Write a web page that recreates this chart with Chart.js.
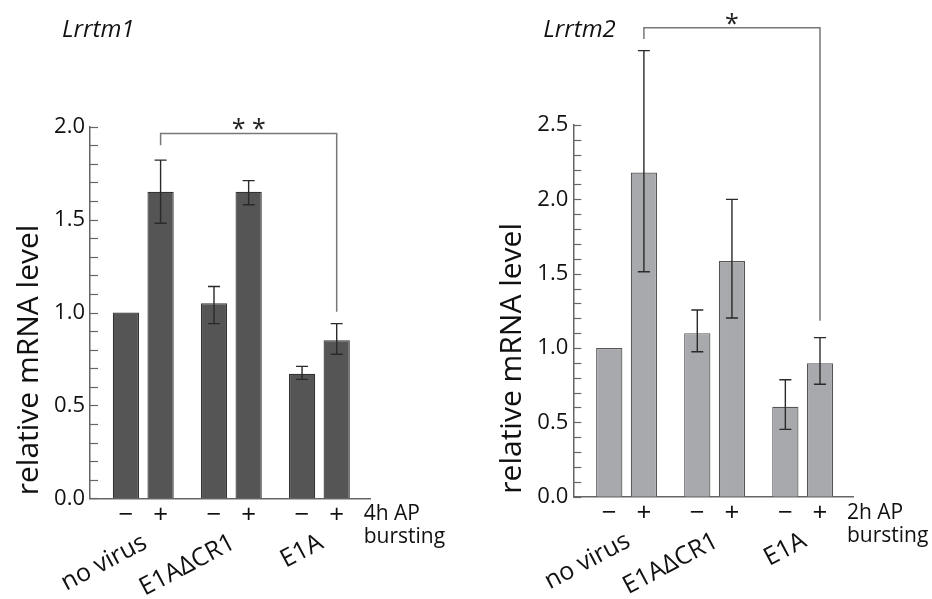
<!DOCTYPE html>
<html>
<head>
<meta charset="utf-8">
<script src="https://cdn.jsdelivr.net/npm/chart.js@4.4.0/dist/chart.umd.min.js"></script>
<style>
  body { margin: 0; background: #fff; }
  #wrap { position: relative; width: 932px; height: 599px; }
  .box { position: absolute; top: 0; width: 466px; height: 599px; }
</style>
</head>
<body>
<div id="wrap">
  <div class="box" style="left:0"><canvas id="chart1"></canvas></div>
  <div class="box" style="left:466px"><canvas id="chart2"></canvas></div>
</div>
<script>
// x axis groups and the -/+ bursting condition
const groups = ["no virus", "E1A\u0394CR1", "E1A"]
const conditions = ["\u2212", "+"]

// Lrrtm1 (4h AP bursting)
const lrrtm1Minus = [1.0, 1.05, 0.67]
const lrrtm1Plus = [1.65, 1.65, 0.85]
const lrrtm1MinusHigh = [null, 1.14, 0.71]
const lrrtm1MinusLow = [null, 0.94, 0.64]
const lrrtm1PlusHigh = [1.82, 1.71, 0.94]
const lrrtm1PlusLow = [1.48, 1.58, 0.775]

// Lrrtm2 (2h AP bursting)
const lrrtm2Minus = [1.0, 1.10, 0.605]
const lrrtm2Plus = [2.18, 1.585, 0.897]
const lrrtm2MinusHigh = [null, 1.256, 0.787]
const lrrtm2MinusLow = [null, 0.975, 0.453]
const lrrtm2PlusHigh = [3.0, 2.0, 1.07]
const lrrtm2PlusLow = [1.513, 1.202, 0.756]

// y axis tick labels
const lrrtm1Ticks = ["0.0", "0.5", "1.0", "1.5", "2.0"]
const lrrtm2Ticks = ["0.0", "0.5", "1.0", "1.5", "2.0", "2.5"]

const FONT = "'Open Sans', 'DejaVu Sans', sans-serif"

// draws the bits Chart.js has no option for: inner ticks, error bars,
// significance bracket, -/+ row, rotated group names and titles
const extrasPlugin = {
    id: 'extras',
    afterDraw(chart, args, opts) {
        const ctx = chart.ctx
        const area = chart.chartArea
        const y = chart.scales.y
        const m0 = chart.getDatasetMeta(0)
        const m1 = chart.getDatasetMeta(1)
        ctx.save()

        // minor ticks pointing into the plot
        ctx.strokeStyle = '#666'
        ctx.lineWidth = 1.2
        y.ticks.forEach(t => {
            let py = Math.round(y.getPixelForValue(t.value)) + 0.5
            ctx.beginPath()
            ctx.moveTo(area.left, py)
            ctx.lineTo(area.left + 8, py)
            ctx.stroke()
        })

        // error bars
        ctx.strokeStyle = '#2a2a2a'
        ctx.lineWidth = 1.4
        const errs = [[opts.minusHigh, opts.minusLow], [opts.plusHigh, opts.plusLow]]
        ;[m0, m1].forEach((meta, d) => {
            meta.data.forEach((bar, i) => {
                let hi = errs[d][0][i]
                let lo = errs[d][1][i]
                if (hi == null) return
                let yh = y.getPixelForValue(hi)
                let yl = y.getPixelForValue(lo)
                ctx.beginPath()
                ctx.moveTo(bar.x, yh)
                ctx.lineTo(bar.x, yl)
                ctx.moveTo(bar.x - 6, yh)
                ctx.lineTo(bar.x + 6, yh)
                ctx.moveTo(bar.x - 6, yl)
                ctx.lineTo(bar.x + 6, yl)
                ctx.stroke()
            })
        })

        // significance bracket between "no virus +" and "E1A +"
        const b = opts.bracket
        let bx1 = m1.data[0].x
        let bx2 = m1.data[2].x
        let by = y.getPixelForValue(b.top)
        ctx.strokeStyle = '#777'
        ctx.lineWidth = 1.5
        ctx.beginPath()
        ctx.moveTo(bx1, y.getPixelForValue(b.leftEnd))
        ctx.lineTo(bx1, by)
        ctx.lineTo(bx2, by)
        ctx.lineTo(bx2, y.getPixelForValue(b.rightEnd))
        ctx.stroke()
        ctx.fillStyle = '#222'
        ctx.font = '25px ' + FONT
        ctx.textAlign = 'center'
        ctx.textBaseline = 'alphabetic'
        ctx.fillText(b.label, (bx1 + bx2) / 2, by + 4)

        // -/+ row
        ctx.fillStyle = '#111'
        ctx.font = '26px ' + FONT
        ctx.textBaseline = 'middle'
        ;[m0, m1].forEach((meta, d) => {
            meta.data.forEach(bar => {
                ctx.fillText(conditions[d], bar.x, area.bottom + 17)
            })
        })

        // "4h AP / bursting"
        ctx.textAlign = 'left'
        ctx.font = '21px ' + FONT
        let lx = m1.data[2].x + 27
        ctx.fillText(opts.apLabel, lx, area.bottom + 16)
        ctx.fillText('bursting', lx, area.bottom + 39)

        // rotated group names
        ctx.font = '25px ' + FONT
        ctx.textAlign = 'right'
        ctx.textBaseline = 'alphabetic'
        groups.forEach((g, i) => {
            ctx.save()
            ctx.translate(m1.data[i].x - 12, area.bottom + 49)
            ctx.rotate(-28 * Math.PI / 180)
            ctx.fillText(g, 0, 0)
            ctx.restore()
        })

        // y axis title
        ctx.save()
        ctx.translate(area.left - 52, area.bottom - 3)
        ctx.rotate(-Math.PI / 2)
        ctx.font = '30px ' + FONT
        ctx.textAlign = 'left'
        ctx.fillText('relative mRNA level', 0, 0)
        ctx.restore()

        // gene name
        ctx.font = 'italic 24px ' + FONT
        ctx.textAlign = 'left'
        ctx.fillText(opts.title, area.left + opts.titleDx, 37)

        ctx.restore()
    }
}

function makeChart(id, cfg) {
    const ctx = document.getElementById(id)
    return new Chart(ctx, {
        type: 'bar',
        data: {
            datasets: [{
                label: conditions[0],
                data: cfg.minus.map((v, i) => ({ x: i, y: v })),
                backgroundColor: cfg.fill,
                borderColor: cfg.border,
                borderWidth: 1.2
            }, {
                label: conditions[1],
                data: cfg.plus.map((v, i) => ({ x: i, y: v })),
                backgroundColor: cfg.fill,
                borderColor: cfg.border,
                borderWidth: 1.2
            }]
        },
        options: {
            responsive: true,
            maintainAspectRatio: false,
            animation: false,
            categoryPercentage: 0.787,
            barPercentage: 0.758,
            layout: { padding: cfg.padding },
            plugins: {
                legend: { display: false },
                tooltip: { enabled: false },
                extras: cfg.extras
            },
            scales: {
                x: {
                    type: 'linear',
                    offset: false,
                    min: -0.605,
                    max: 2.575,
                    afterBuildTicks: s => { s.ticks = groups.map((g, i) => ({ value: i })) },
                    afterFit: s => { s.height = 0 },
                    grid: { display: false, drawTicks: false, offset: false },
                    ticks: { display: false },
                    border: { display: true, color: '#666', width: 1.5 }
                },
                y: {
                    min: 0,
                    max: cfg.yMax,
                    afterFit: s => { s.width = cfg.padding.yWidth },
                    grid: { display: false, drawTicks: false },
                    border: { display: true, color: '#666', width: 1.5 },
                    ticks: {
                        stepSize: 0.1,
                        padding: 5,
                        autoSkip: false,
                        color: '#111',
                        font: { family: FONT, size: 22 },
                        callback: v => {
                            let k = Math.round(v * 2)
                            if (Math.abs(v * 2 - k) > 1e-6) return ''
                            return cfg.tickLabels[k]
                        }
                    }
                }
            }
        },
        plugins: [extrasPlugin]
    })
}

makeChart('chart1', {
    minus: lrrtm1Minus,
    plus: lrrtm1Plus,
    fill: '#555555',
    border: '#333333',
    yMax: 2.0,
    tickLabels: lrrtm1Ticks,
    padding: { left: 0, right: 96, top: 126.7, bottom: 100.7, yWidth: 90 },
    extras: {
        title: 'Lrrtm1',
        titleDx: -28,
        apLabel: '4h AP',
        minusHigh: lrrtm1MinusHigh,
        minusLow: lrrtm1MinusLow,
        plusHigh: lrrtm1PlusHigh,
        plusLow: lrrtm1PlusLow,
        bracket: { top: 1.964, leftEnd: 1.90, rightEnd: 1.004, label: '* *' }
    }
})

makeChart('chart2', {
    minus: lrrtm2Minus,
    plus: lrrtm2Plus,
    fill: '#a8a9ac',
    border: '#555555',
    yMax: 2.5,
    tickLabels: lrrtm2Ticks,
    padding: { left: 0, right: 78.7, top: 125, bottom: 102.3, yWidth: 107.3 },
    extras: {
        title: 'Lrrtm2',
        titleDx: -30,
        apLabel: '2h AP',
        minusHigh: lrrtm2MinusHigh,
        minusLow: lrrtm2MinusLow,
        plusHigh: lrrtm2PlusHigh,
        plusLow: lrrtm2PlusLow,
        bracket: { top: 3.154, leftEnd: 3.078, rightEnd: 1.184, label: '*' }
    }
})
</script>
</body>
</html>
